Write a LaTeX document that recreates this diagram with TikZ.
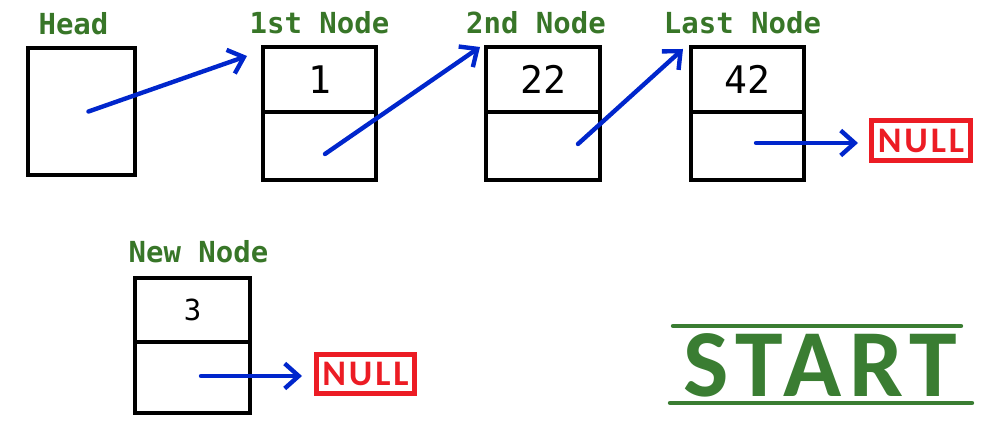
\documentclass[tikz,border=0pt]{standalone}
\usepackage{fontspec}
\usepackage{tikz}
\usetikzlibrary{positioning,calc,arrows.meta}
\newfontfamily\labelfont{DejaVu Sans Mono}
\newfontfamily\digitfont{DejaVu Sans Mono}
\newfontfamily\nullmark[LetterSpace=8]{Carlito}
\newfontfamily\startmark[LetterSpace=8]{Carlito}
\definecolor{lblgreen}{RGB}{56,118,40}
\definecolor{startgreen}{RGB}{58,125,50}
\definecolor{ptrblue}{RGB}{0,38,204}
\definecolor{nullred}{RGB}{236,28,36}

\begin{document}
\begin{tikzpicture}[x=1pt, y=1pt,
	every node/.style={outer sep=0pt},
	cell/.style={draw, line width=4.4pt, rectangle, minimum width=113pt, font=\digitfont\fontsize{38}{38}\selectfont},
	lbl/.style={text=lblgreen, inner sep=0pt, font=\labelfont\bfseries\fontsize{29}{29}\selectfont},
	nullbox/.style={draw=nullred, line width=5pt, text=nullred, minimum width=99pt, minimum height=40pt, inner sep=0pt, font=\nullmark\bfseries\fontsize{36}{36}\selectfont},
	ptr/.style={draw=ptrblue, line width=4.4pt, line cap=round, -{Straight Barb[length=14pt, width=25pt]}},
	rule/.style={draw=startgreen, line width=4.4pt, line cap=round}]
	\useasboundingbox (0,0) rectangle (994,434);
	% head pointer
	\node[cell, minimum width=107pt, minimum height=127pt](head) at (81.5,322.5) {};
	\node[lbl, above=13pt of head, anchor=base, xshift=-8pt](headlbl) {Head};
	% linked list
	\node[cell, minimum height=65pt](n1) at (319.5,354.5) {1};
	\node[cell, minimum height=68pt, below=0pt of n1](n1next) {};
	\node[cell, minimum width=114pt, minimum height=65pt](n2) at (543,354.5) {22};
	\node[cell, minimum width=114pt, minimum height=68pt, below=0pt of n2](n2next) {};
	\node[cell, minimum height=65pt](n3) at (747.5,354.5) {42};
	\node[cell, minimum height=68pt, below=0pt of n3](n3next) {};
	\node[lbl, above=13pt of n1, anchor=base](n1lbl) {1st Node};
	\node[lbl, above=13pt of n2, anchor=base, xshift=-7pt](n2lbl) {2nd Node};
	\node[lbl, above=13pt of n3, anchor=base, xshift=-5pt](n3lbl) {Last Node};
	\node[nullbox](null1) at (921,293.5) {NULL};
	% new node
	\node[cell, minimum width=115pt, minimum height=64pt, font=\digitfont\fontsize{29}{29}\selectfont](newdata) at (192.5,124) {3};
	\node[cell, minimum width=115pt, minimum height=71pt, below=0pt of newdata](newnext) {};
	\node[lbl, above=15pt of newdata, anchor=base, xshift=6pt](newlbl) {New Node};
	\node[nullbox, minimum width=98pt, minimum height=39pt](null2) at (365.5,60) {NULL};
	% pointers
	\draw[ptr] ($(head.center)+(7,0)$) -- ($(n1.north west)+(-16,-9)$);
	\draw[ptr] ($(n1next.center)+(5.5,-8)$) -- ($(n2.north west)+(-6,0)$);
	\draw[ptr] ($(n2next.center)+(35,2)$) -- ($(n3.north west)+(-8,-2)$);
	\draw[ptr] ($(n3next.center)+(8.5,3)$) -- ($(null1.west)+(-13.5,-2.5)$);
	\draw[ptr] ($(newnext.center)+(8.5,1.5)$) -- ($(null2.west)+(-14.5,-2)$);
	% start
	\node[text=startgreen, inner sep=0pt, anchor=base, font=\startmark\bfseries\fontsize{96}{96}\selectfont](start) at (820.5,37) {START};
	\draw[rule] ($(start.base)+(-147.5,71)$) -- ($(start.base)+(140.5,71)$);
	\draw[rule] ($(start.base)+(-150.5,-6)$) -- ($(start.base)+(151.5,-6)$);
\end{tikzpicture}
\end{document}
